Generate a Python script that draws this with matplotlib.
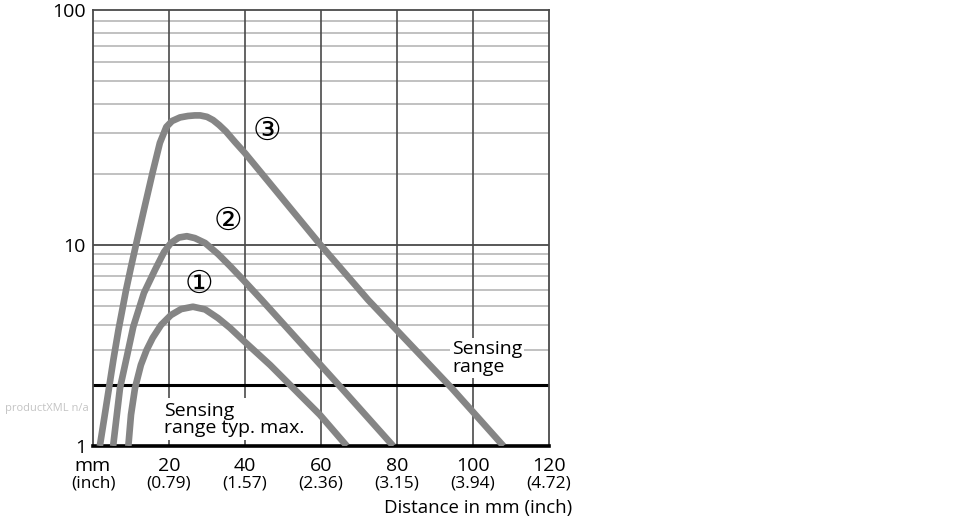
import numpy as np
import matplotlib
matplotlib.use("Agg")
import matplotlib.pyplot as plt

plt.rcParams['font.family'] = ['Open Sans', 'DejaVu Sans', 'Noto Sans CJK JP']

# ---- data ----
curve1_x = [9.3, 10.0, 11.05, 12.6, 14.1, 15.7, 17.9, 20.5, 23.2, 26.3, 29.5, 32.9, 36.05, 40.0, 46.6, 52.7, 59.7, 66.8]
curve1_y = [1.0, 1.43, 1.94, 2.53, 3.0, 3.45, 4.0, 4.48, 4.80, 4.93, 4.78, 4.33, 3.87, 3.29, 2.53, 1.94, 1.43, 1.0]

curve2_x = [5.3, 7.1, 8.9, 10.6, 13.4, 16.3, 18.7, 20.5, 22.6, 24.7, 26.8, 29.5, 32.9, 36.05, 39.55, 44.4, 65.4, 79.0]
curve2_y = [1.0, 1.94, 2.78, 3.92, 5.77, 7.51, 9.23, 10.2, 10.76, 10.9, 10.7, 10.2, 9.02, 7.86, 6.70, 5.33, 1.94, 1.0]

curve3_x = [1.8, 3.0, 4.2, 5.4, 6.7, 8.7, 10.0, 11.3, 13.4, 15.7, 17.6, 19.3, 20.8, 22.9, 25.0, 26.8,
            28.2, 30.0, 31.6, 33.2, 35.0, 37.4, 40.0, 59.9, 72.4, 94.4, 108.0]
curve3_y = [1.0, 1.39, 1.94, 2.71, 3.78, 5.97, 7.77, 10.0, 14.1, 20.4, 27.2, 31.8, 33.7, 34.9, 35.4, 35.6,
            35.6, 35.1, 34.0, 32.4, 30.4, 27.4, 24.6, 10.0, 5.33, 1.94, 1.0]

curve_labels = ['\u2460', '\u2461', '\u2462']
label_x = [28.0, 35.5, 45.9]
label_y = [6.4, 12.6, 30.4]

x_ticks = [0, 20, 40, 60, 80, 100, 120]
x_mm_labels = ['mm', '20', '40', '60', '80', '100', '120']
x_inch_labels = ['(inch)', '(0.79)', '(1.57)', '(2.36)', '(3.15)', '(3.94)', '(4.72)']
y_ticks = [1, 10, 100]
y_tick_labels = ['1', '10', '100']
y_minor = [2, 3, 4, 5, 6, 7, 8, 9, 20, 30, 40, 50, 60, 70, 80, 90]
sensing_limit = 2
x_label = 'Distance in mm (inch)'

# ---- piecewise logarithmic scale (lower decade drawn shorter than upper) ----
D1, D2 = 201.0, 235.0
def fwd(v):
    l = np.log10(np.maximum(np.asarray(v, dtype=float), 1e-6))
    return np.where(l <= 1, l * D1, D1 + (l - 1) * D2)
def inv(u):
    u = np.asarray(u, dtype=float)
    return np.where(u <= D1, 10 ** (u / D1), 10 ** (1 + (u - D1) / D2))

fig = plt.figure(figsize=(9.7, 5.2), dpi=100)
ax = fig.add_axes([93/970, 74/520, (549-93)/970, (446-10)/520])
ax.set_yscale('function', functions=(fwd, inv))
ax.set_xlim(0, 120)
ax.set_ylim(1, 100)

dark = '#4a4a4a'
light = '#bcbcbc'
curve_col = '#858585'

# grid
for x in x_ticks[1:-1]:
    ax.axvline(x, color=dark, lw=1.2, zorder=1)
for y in y_minor:
    if y == sensing_limit:
        continue
    ax.axhline(y, color=light, lw=1.3, zorder=0.9)
ax.axhline(10, color=dark, lw=1.3, zorder=1)
ax.axhline(sensing_limit, color='black', lw=2.2, zorder=2)

# curves
for xs, ys in [(curve1_x, curve1_y), (curve2_x, curve2_y), (curve3_x, curve3_y)]:
    ax.plot(xs, ys, color=curve_col, lw=4.8, solid_joinstyle='round',
            solid_capstyle='butt', zorder=4)

for t, x, y in zip(curve_labels, label_x, label_y):
    ax.text(x, y, t, fontsize=23, ha='center', va='center', color='black',
            family=['DejaVu Sans', 'Noto Sans CJK JP'], zorder=5)

ax.text(94.5, 2.74, 'Sensing\nrange', fontsize=14, ha='left', va='center',
        linespacing=0.95, zorder=3,
        bbox=dict(facecolor='white', edgecolor='none', pad=1.5))
ax.text(18.7, 1.36, 'Sensing\nrange typ. max.', fontsize=14, ha='left', va='center',
        linespacing=0.95, zorder=3,
        bbox=dict(facecolor='white', edgecolor='none', pad=2.5))

# spines
for s in ['top', 'right', 'left']:
    ax.spines[s].set_color(dark)
    ax.spines[s].set_linewidth(1.3)
ax.spines['bottom'].set_color('black')
ax.spines['bottom'].set_linewidth(2.6)

# ticks
ax.set_yticks(y_ticks)
ax.set_yticklabels(y_tick_labels, fontsize=14)
ax.set_yticks([], minor=True)
ax.tick_params(axis='y', length=0, pad=5)

ax.xaxis.remove_overlapping_locs = False
ax.set_xticks(x_ticks)
ax.set_xticklabels(x_mm_labels, fontsize=14)
ax.set_xticks(x_ticks, minor=True)
ax.set_xticklabels(x_inch_labels, minor=True, fontsize=12.5)
ax.tick_params(axis='x', which='major', length=0, pad=8)
ax.tick_params(axis='x', which='minor', length=0, pad=21)

fig.text(572/970, 1 - 508/520, x_label, fontsize=13.4, ha='right', va='center')
fig.text(5/970, 1 - 408/520, 'productXML n/a', fontsize=8, color='#c4c4c4',
         ha='left', va='center')

fig.savefig('out.png', dpi=100)
